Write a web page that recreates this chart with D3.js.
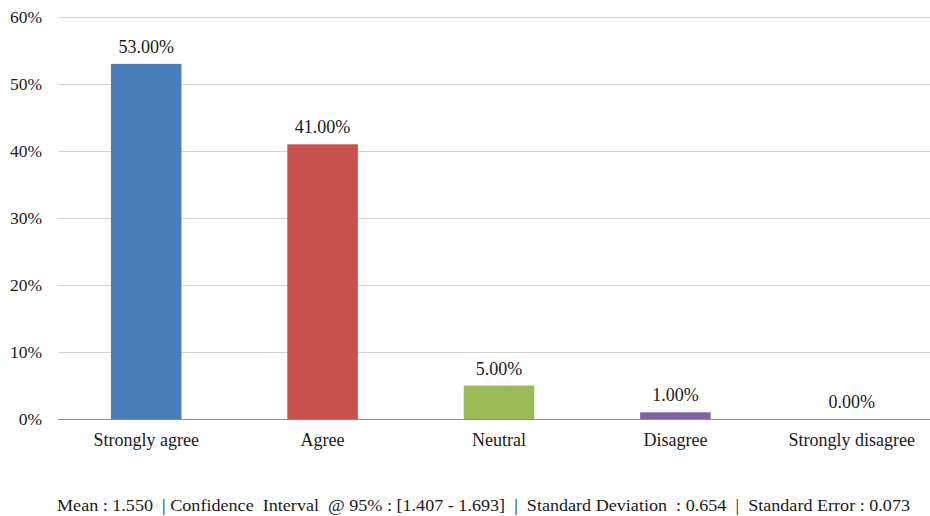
<!DOCTYPE html>
<html>
<head>
<meta charset="utf-8">
<script src="https://cdn.jsdelivr.net/npm/d3@7"></script>
<style>
  html, body { margin: 0; padding: 0; background: #fff; }
  svg text { font-family: "Liberation Serif", "Times New Roman", serif; fill: #1a1a1a; }
</style>
</head>
<body>
<svg id="chart" width="930" height="516"></svg>
<script>
// Survey responses (percent of respondents)
const categories = ["Strongly agree", "Agree", "Neutral", "Disagree", "Strongly disagree"];
const values = [53, 41, 5, 1, 0];
const colors = ["#4A7EBB", "#C9514E", "#9BBB59", "#8064A2", "#4BACC6"];
const yTicks = [0, 10, 20, 30, 40, 50, 60];
const summary = "Mean : 1.550  | Confidence  Interval  @ 95% : [1.407 - 1.693]  |  Standard Deviation  : 0.654  |  Standard Error : 0.073";

const svg = d3.select("#chart");
const plotLeft = 58, plotRight = 930, plotTop = 17, plotBottom = 419;

const x = d3.scaleBand().domain(categories).range([plotLeft, plotLeft + 5 * 176.4]).paddingInner(0.6).paddingOuter(0.3);
const y = d3.scaleLinear().domain([0, 60]).range([plotBottom, plotTop]);

// horizontal gridlines
svg.append("g").selectAll("line").data(yTicks.filter(d => d > 0)).join("line")
  .attr("x1", plotLeft).attr("x2", plotRight)
  .attr("y1", d => y(d) + 0.5).attr("y2", d => y(d) + 0.5)
  .attr("stroke", "#d4d4d4").attr("stroke-width", 1);

// y tick labels
svg.append("g").selectAll("text").data(yTicks).join("text")
  .attr("x", 42).attr("y", d => y(d) + 6)
  .attr("text-anchor", "end").attr("font-size", 17.5)
  .text(d => d + "%");

// bars
svg.append("g").selectAll("rect").data(values).join("rect")
  .attr("x", (d, i) => x(categories[i]))
  .attr("width", x.bandwidth())
  .attr("y", d => y(d))
  .attr("height", d => plotBottom - y(d))
  .attr("fill", (d, i) => colors[i]);

// x axis line
svg.append("line")
  .attr("x1", plotLeft).attr("x2", plotRight)
  .attr("y1", plotBottom + 0.5).attr("y2", plotBottom + 0.5)
  .attr("stroke", "#8c8c8c").attr("stroke-width", 1.2);

// value labels
svg.append("g").selectAll("text").data(values).join("text")
  .attr("x", (d, i) => x(categories[i]) + x.bandwidth() / 2)
  .attr("y", d => y(d) - 11)
  .attr("text-anchor", "middle").attr("font-size", 18)
  .text(d => d.toFixed(2) + "%");

// category labels
svg.append("g").selectAll("text").data(categories).join("text")
  .attr("x", d => x(d) + x.bandwidth() / 2)
  .attr("y", 446)
  .attr("text-anchor", "middle").attr("font-size", 18)
  .text(d => d);

// summary statistics line
svg.append("text")
  .attr("x", 57).attr("y", 511)
  .attr("font-size", 16.5)
  .attr("textLength", 853).attr("lengthAdjust", "spacingAndGlyphs")
  .style("white-space", "pre")
  .text(summary);
</script>
</body>
</html>
